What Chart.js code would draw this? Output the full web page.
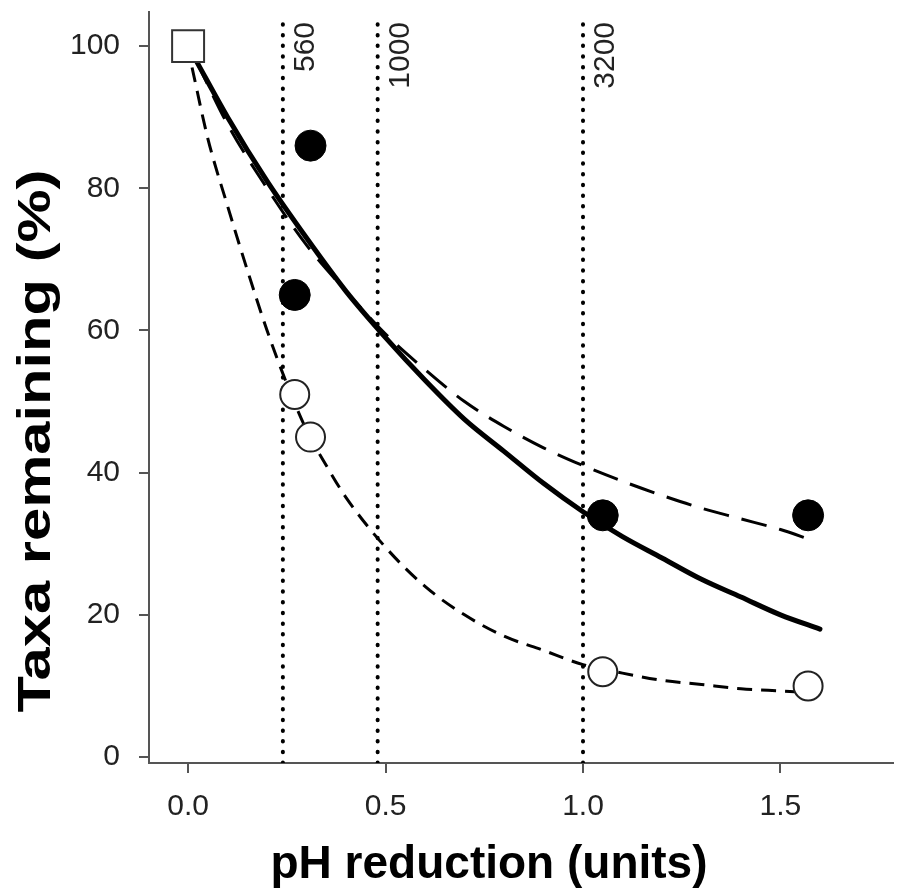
<!DOCTYPE html>
<html lang="en">
<head>
<meta charset="UTF-8" />
<title>Taxa remaining vs pH reduction</title>
<style>
  html, body { margin: 0; padding: 0; background: #fff; }
  #wrap { width: 898px; height: 891px; }
</style>
</head>
<body>
<div id="wrap"><canvas id="chart" width="898" height="891"></canvas></div>

<script src="https://cdn.jsdelivr.net/npm/chart.js"></script>
<script>
// ---- data ----
const startX = [0];
const startY = [100];

const filledX = [0.31, 0.27, 1.05, 1.57];
const filledY = [86, 65, 34, 34];

const openX = [0.27, 0.31, 1.05, 1.57];
const openY = [51, 45, 12, 10];

// thick solid fit
const solidX = [0.02, 0.1, 0.2, 0.3, 0.4, 0.5, 0.6, 0.7, 0.8, 0.9, 1.0, 1.1, 1.2, 1.3, 1.4, 1.5, 1.6];
const solidY = [98, 90, 81, 73, 65.5, 59, 53, 47.5, 43, 38.5, 34.5, 31, 28, 25, 22.5, 20, 18];

// long-dash fit (filled circles, with asymptote)
const longX = [0.02, 0.1, 0.2, 0.3, 0.4, 0.5, 0.6, 0.7, 0.8, 0.9, 1.0, 1.1, 1.2, 1.3, 1.4, 1.5, 1.58];
const longY = [98, 89, 80, 72, 65.5, 59.5, 54.5, 50, 46.5, 43.5, 41, 38.8, 36.8, 35, 33.5, 32, 30.5];

// short-dash fit (open circles)
const shortX = [0.01, 0.05, 0.1, 0.15, 0.2, 0.25, 0.3, 0.35, 0.4, 0.5, 0.6, 0.7, 0.8, 0.9, 1.0, 1.1, 1.2, 1.3, 1.4, 1.5, 1.57];
const shortY = [97, 87, 77.5, 68.5, 60, 52.5, 46, 41, 36.5, 29.5, 24, 20, 17, 15, 13, 11.8, 10.8, 10.2, 9.6, 9.3, 9.1];

// dotted reference lines
const refX = [0.24, 0.48, 1.0];
const refLabels = ['560', '1000', '3200'];
const refTop = 104;

const xTicks = [0, 0.5, 1.0, 1.5];
const yTicks = [0, 20, 40, 60, 80, 100];
const xMin = -0.099, xMax = 1.785;
const yMin = -0.84, yMax = 104.8;

const xTitle = 'pH reduction (units)';
const yTitle = 'Taxa remaining (%)';

// ---- build datasets ----
const pts = (xs, ys) => xs.map((x, i) => ({ x: x, y: ys[i] }));

const AXIS = '#555';
const INK = '#000';
const FONT = '"Liberation Sans", Arial, sans-serif';

const datasets = [
  {
    data: pts(startX, startY), showLine: false,
    pointStyle: 'rect', pointRadius: 22.6, pointBackgroundColor: '#fff',
    pointBorderColor: '#333', pointBorderWidth: 2, clip: false
  },
  {
    data: pts(openX, openY), showLine: false,
    pointStyle: 'circle', pointRadius: 14.5, pointBackgroundColor: '#fff',
    pointBorderColor: '#222', pointBorderWidth: 2, clip: false
  },
  {
    data: pts(filledX, filledY), showLine: false,
    pointStyle: 'circle', pointRadius: 15.5, pointBackgroundColor: INK,
    pointBorderColor: INK, pointBorderWidth: 1, clip: false
  },
  {
    data: pts(solidX, solidY), borderColor: INK, borderWidth: 5,
    pointRadius: 0, cubicInterpolationMode: 'monotone', borderCapStyle: 'round'
  },
  {
    data: pts(longX, longY), borderColor: INK, borderWidth: 3,
    borderDash: [26, 13], pointRadius: 0, cubicInterpolationMode: 'monotone'
  },
  {
    data: pts(shortX, shortY), borderColor: INK, borderWidth: 3,
    borderDash: [15, 9], pointRadius: 0, cubicInterpolationMode: 'monotone'
  }
];

refX.forEach(r => {
  datasets.push({
    data: [{ x: r, y: yMin }, { x: r, y: refTop }],
    borderColor: INK, borderWidth: 4, borderDash: [0.5, 10.2],
    borderCapStyle: 'round', pointRadius: 0
  });
});

// titles and reference labels
const textPlugin = {
  id: 'texts',
  afterDraw(chart) {
    const ctx = chart.ctx;
    const xs = chart.scales.x;
    ctx.save();

    // ref line labels, rotated
    ctx.font = '30px ' + FONT;
    ctx.fillStyle = '#222';
    refX.forEach((r, i) => {
      const px = xs.getPixelForValue(r) + 23;
      ctx.save();
      ctx.translate(px, 22);
      ctx.rotate(-Math.PI / 2);
      ctx.textAlign = 'right';
      ctx.textBaseline = 'middle';
      ctx.fillText(refLabels[i], 0, 0);
      ctx.restore();
    });

    // x title
    ctx.fillStyle = '#000';
    ctx.font = 'bold 46px ' + FONT;
    ctx.textAlign = 'center';
    ctx.textBaseline = 'alphabetic';
    ctx.fillText(xTitle, 489, 878);

    // y title
    ctx.save();
    ctx.translate(50, 441);
    ctx.rotate(-Math.PI / 2);
    const w = ctx.measureText(yTitle).width;
    ctx.scale(543 / w, 1);
    ctx.fillText(yTitle, 0, 0);
    ctx.restore();

    ctx.restore();
  }
};

const tickFont = { family: FONT, size: 30 };
const noPad = s => { s.paddingTop = 0; s.paddingBottom = 0; s.paddingLeft = 0; s.paddingRight = 0; };

new Chart(document.getElementById('chart'), {
  type: 'line',
  data: { datasets: datasets },
  options: {
    responsive: false,
    animation: false,
    layout: { autoPadding: false, padding: { top: 12, right: 5, left: 0, bottom: 0 } },
    plugins: { legend: { display: false }, tooltip: { enabled: false } },
    elements: { line: { tension: 0 } },
    scales: {
      x: {
        type: 'linear', min: xMin, max: xMax,
        afterBuildTicks: s => { s.ticks = xTicks.map(v => ({ value: v })); },
        afterFit: s => { s.height = 128; noPad(s); },
        ticks: { font: tickFont, color: '#222', padding: 16, maxRotation: 0,
                 callback: v => Number(v).toFixed(1) },
        grid: { display: true, drawOnChartArea: false, drawTicks: true,
                tickLength: 10, color: AXIS, lineWidth: 2 },
        border: { display: true, color: AXIS, width: 2 }
      },
      y: {
        type: 'linear', min: yMin, max: yMax,
        afterBuildTicks: s => { s.ticks = yTicks.map(v => ({ value: v })); },
        afterFit: s => { s.width = 149; noPad(s); },
        ticks: { font: tickFont, color: '#222', padding: 19,
                 callback: v => String(v) },
        grid: { display: true, drawOnChartArea: false, drawTicks: true,
                tickLength: 10, color: AXIS, lineWidth: 2 },
        border: { display: true, color: AXIS, width: 2 }
      }
    }
  },
  plugins: [textPlugin]
});
</script>
</body>
</html>
